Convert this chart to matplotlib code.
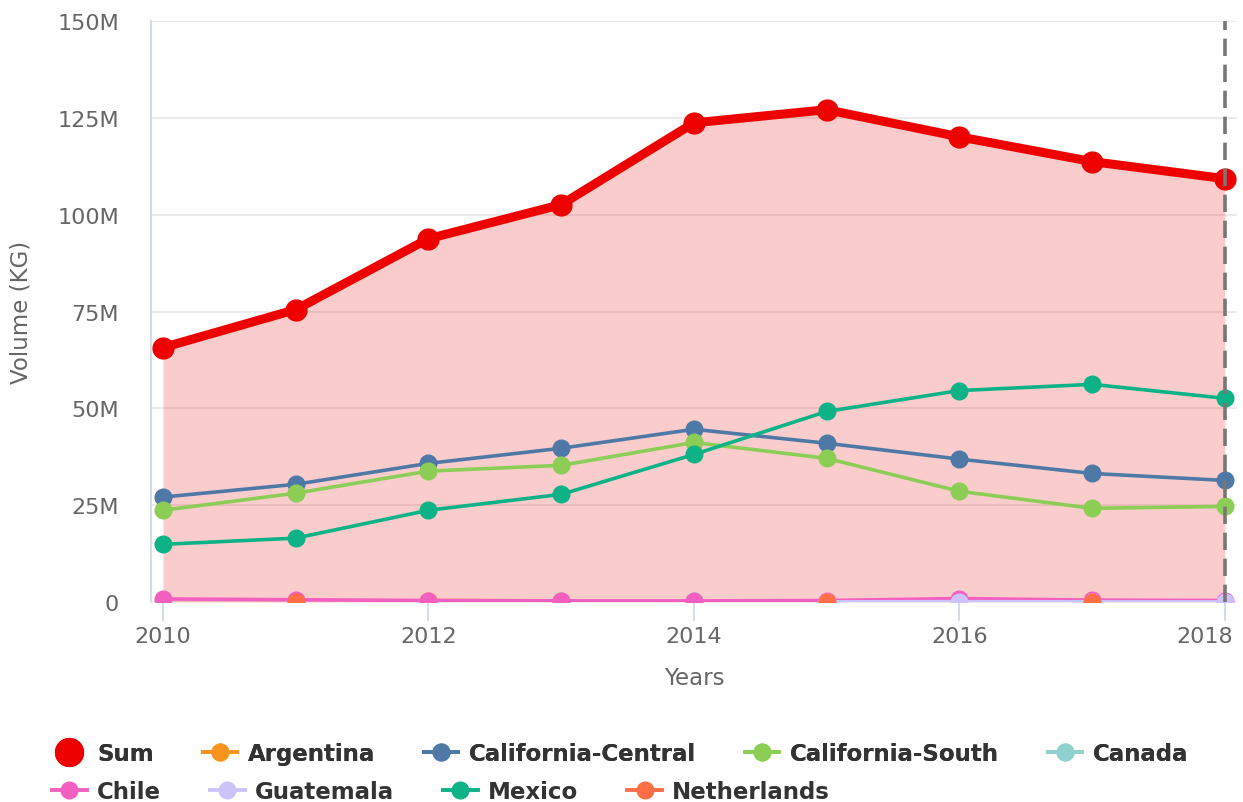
import numpy as np
import matplotlib.pyplot as plt
import matplotlib.transforms as mtrans
from matplotlib.lines import Line2D

plt.rcParams['font.family'] = ['DejaVu Sans']

years = [2010, 2011, 2012, 2013, 2014, 2015, 2016, 2017, 2018]
nan = np.nan

# volumes in millions of KG
total = [65.7, 75.5, 93.8, 102.6, 123.7, 127.1, 120.1, 113.7, 109.3]
argentina = [nan, nan, 0.4, 0.3, nan, nan, nan, nan, nan]
cal_central = [27.1, 30.4, 35.8, 39.7, 44.6, 41.0, 36.9, 33.2, 31.4]
cal_south = [23.7, 28.1, 33.8, 35.3, 41.2, 37.1, 28.6, 24.2, 24.7]
canada = [nan, nan, nan, 0.3, 0.3, nan, nan, nan, nan]
chile = [0.8, 0.6, 0.4, 0.3, 0.3, 0.4, 0.9, 0.5, 0.4]
guatemala = [nan, nan, nan, nan, nan, 0.05, 0.1, 0.05, 0.05]
mexico = [14.9, 16.5, 23.7, 27.8, 38.1, 49.2, 54.6, 56.2, 52.6]
netherlands = [nan, 0.05, nan, nan, nan, 0.1, nan, 0.1, nan]

series = [
    ("Argentina", argentina, "#f7931e"),
    ("California-Central", cal_central, "#4e79a7"),
    ("California-South", cal_south, "#8cce55"),
    ("Canada", canada, "#8fd1cf"),
    ("Chile", chile, "#f35fc1"),
    ("Guatemala", guatemala, "#cdc3fb"),
    ("Mexico", mexico, "#0db386"),
    ("Netherlands", netherlands, "#ff6e47"),
]

fig = plt.figure(figsize=(12.43, 8.03), dpi=100)
ax = fig.add_axes([0.1215, 0.249, 0.8735, 0.7236])

ax.fill_between(years, total, 0, color="#ee0000", alpha=0.2, linewidth=0, zorder=1)
ax.plot(years, total, color="#ee0000", linewidth=6.5, marker="o", markersize=15,
        solid_capstyle="round", zorder=3)

for i, (name, vals, col) in enumerate(series):
    ax.plot(years, vals, color=col, linewidth=2.6, marker="o",
            markersize=12, zorder=4 + i * 0.1)

ax.axvline(2018, color="#777777", linewidth=2.6, linestyle=(0, (4.8, 2.4)), zorder=10)

ax.set_xlim(2009.91, 2018.09)
ax.set_ylim(0, 150)
ax.set_yticks([0, 25, 50, 75, 100, 125, 150])
ax.set_yticklabels(["0", "25M", "50M", "75M", "100M", "125M", "150M"])
ax.set_xticks([2010, 2012, 2014, 2016, 2018])
ax.grid(axis="y", color="#e6e6e6", linewidth=1.2)
ax.set_axisbelow(True)
for s in ["top", "right", "bottom"]:
    ax.spines[s].set_visible(False)
ax.spines["left"].set_color("#ccd6eb")
ax.spines["left"].set_linewidth(1.2)
ax.tick_params(axis="y", length=0, labelsize=16, labelcolor="#666666", pad=23)
ax.tick_params(axis="x", length=14, width=1.2, color="#ccd6eb", labelsize=16,
               labelcolor="#666666", pad=3)
# keep last year label inside the figure
last = ax.get_xticklabels()[-1]
last.set_transform(last.get_transform() + mtrans.ScaledTranslation(-0.2, 0, fig.dpi_scale_trans))
ax.set_xlabel("Years", fontsize=16.5, color="#666666", labelpad=15)
ax.set_ylabel("Volume (KG)", fontsize=16.5, color="#666666", labelpad=18)

# legend rows
def handle(name, col):
    return Line2D([], [], color=col, linewidth=2.8, marker="o", markersize=12, label=name)

row1 = [Line2D([], [], color="#ee0000", linestyle="none", marker="o", markersize=20, label="Sum")]
row1 += [handle(n, c) for n, _, c in series[:4]]
row2 = [handle(n, c) for n, _, c in series[4:]]

leg_kw = dict(frameon=False, prop={"size": 16.5, "weight": "bold"}, handlelength=1.5,
              handletextpad=0.45, columnspacing=2.15, labelcolor="#333333",
              borderpad=0, borderaxespad=0)
leg1 = fig.legend(handles=row1, ncol=5, loc="center left", bbox_to_anchor=(0.042, 0.06), **leg_kw)
fig.add_artist(leg1)
fig.legend(handles=row2, ncol=4, loc="center left", bbox_to_anchor=(0.042, 0.0125), **leg_kw)

plt.savefig("out.png", dpi=100)
